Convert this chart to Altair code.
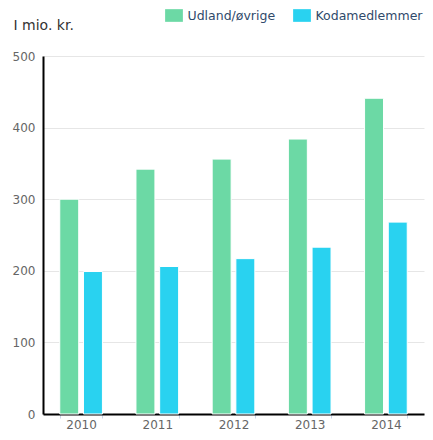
import altair as alt
import pandas as pd

years = ["2010", "2011", "2012", "2013", "2014"]
series = ["Udland/øvrige", "Kodamedlemmer"]
udland = [300, 342, 356, 384, 441]
koda = [199, 206, 217, 233, 268]
colors = ["#6cd9a5", "#29d2f0"]

rows = []
for i, y in enumerate(years):
    rows.append({"year": y, "serie": series[0], "value": udland[i]})
    rows.append({"year": y, "serie": series[1], "value": koda[i]})
df = pd.DataFrame(rows)

font = "DejaVu Sans"

chart = alt.Chart(df).mark_bar(stroke="white", strokeWidth=1).encode(
    x=alt.X("year:N", title=None, sort=years,
            scale=alt.Scale(paddingInner=0.44, paddingOuter=0.22),
            axis=alt.Axis(labelAngle=0, domainColor="black", domainWidth=2,
                          tickBand="extent", tickColor="#ccd6eb", tickSize=4,
                          labelColor="#666666", labelFont=font, labelFontSize=12,
                          labelPadding=1)),
    xOffset=alt.XOffset("serie:N", sort=series,
                        scale=alt.Scale(paddingInner=0.2, paddingOuter=0)),
    y=alt.Y("value:Q", scale=alt.Scale(domain=[0, 500]),
            axis=alt.Axis(title="I mio. kr.", titleAngle=0, titleAlign="left",
                          titleBaseline="alphabetic", titleX=-30, titleY=-27,
                          titleFont=font, titleFontSize=14, titleFontWeight="normal",
                          titleColor="#333333",
                          values=[0, 100, 200, 300, 400, 500],
                          domainColor="black", domainWidth=2, ticks=False,
                          gridColor="#e6e6e6", labelColor="#666666",
                          labelFont=font, labelFontSize=12, labelPadding=8)),
    color=alt.Color("serie:N", sort=series,
                    scale=alt.Scale(domain=series, range=colors),
                    legend=alt.Legend(title=None, orient="none", direction="horizontal",
                                      legendX=124.5, legendY=-47, padding=0,
                                      symbolType="M-1.4,-1L1.4,-1L1.4,1L-1.4,1Z",
                                      symbolSize=161, symbolStrokeWidth=0,
                                      labelOffset=7, columnPadding=17,
                                      labelFont=font, labelFontSize=12.5,
                                      labelColor="#2f4a6b")),
).properties(
    width=381, height=358,
    autosize=alt.AutoSizeParams(type="none"),
    padding={"left": 35, "top": 48, "right": 1, "bottom": 18},
).configure_view(stroke=None)

chart.save("out.html", embed_options={"renderer": "svg", "actions": False})
